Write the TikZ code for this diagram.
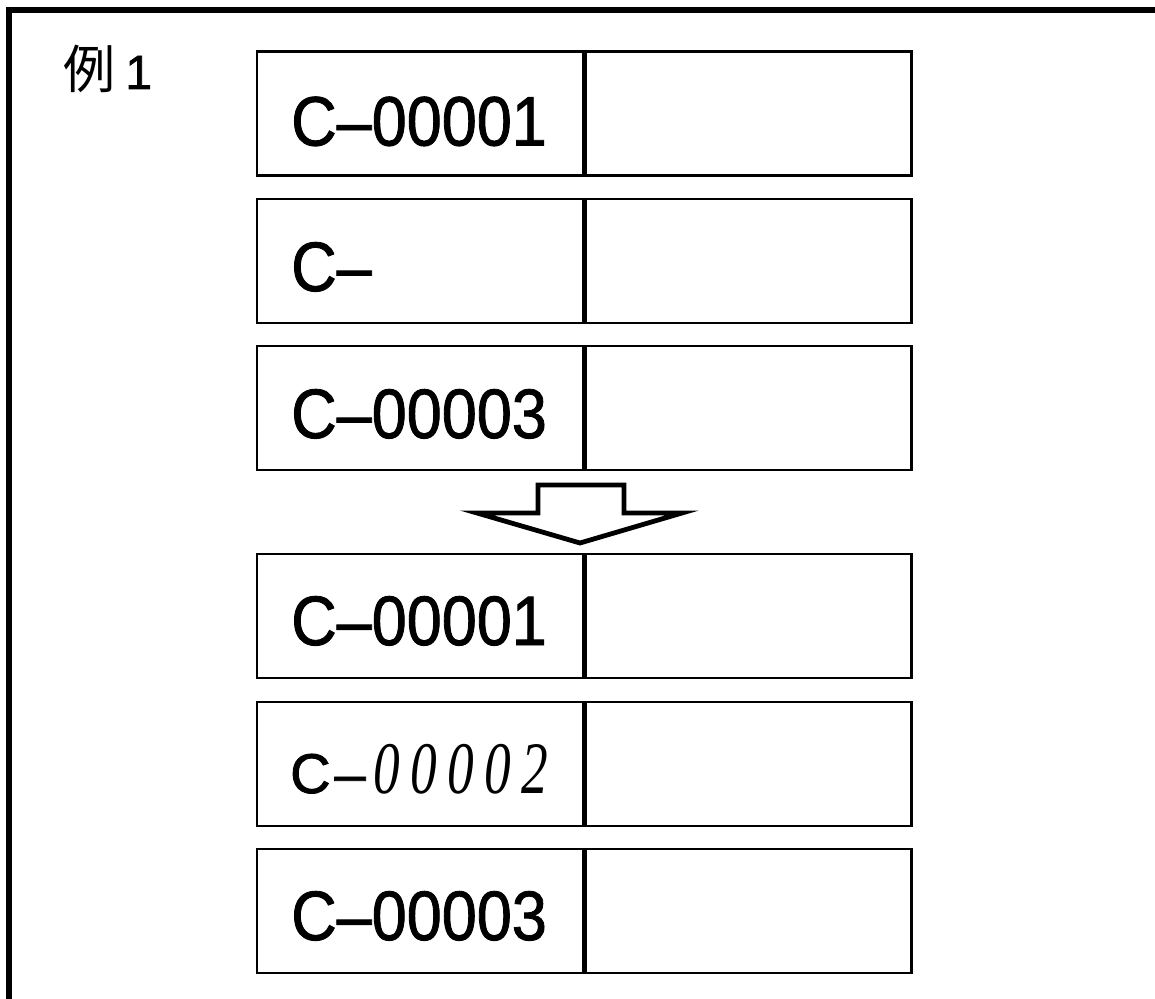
\documentclass[tikz,border=0pt]{standalone}
\usepackage{fontspec}
\usetikzlibrary{positioning}
\newfontfamily\cjk{Noto Sans CJK JP}
\newfontfamily\boxfont{Liberation Sans}[FakeStretch=0.9,FakeBold=1.2]
\newfontfamily\plainfont{Liberation Sans}[FakeBold=1.5]
\newfontfamily\handfont{Liberation Serif}[FakeStretch=0.72,LetterSpace=14]
\tikzset{
  cell/.style={draw, line width=1.2pt, minimum width=163pt, minimum height=62pt, inner sep=0pt},
  code/.style={anchor=base west, inner sep=0pt, font=\boxfont\fontsize{35pt}{40pt}\selectfont},
}
\begin{document}
\begin{tikzpicture}[x=0.5pt, y=-0.5pt] %1 unit = 1 px
  \useasboundingbox (0,0) rectangle (1155,999);
  \clip (0,0) rectangle (1155,999);

  % frame, runs off the page at right and bottom
  \draw[line width=3pt] (9,1020) -- (9,10) -- (1180,10);

  \node[anchor=base west, inner sep=0pt] (ex) at (63,89)
    {{\cjk\fontsize{26pt}{30pt}\selectfont 例}\hspace{5pt}{\plainfont\fontsize{24pt}{28pt}\selectfont 1}};

  % before
  \node[cell] (l1) at (420,113.5) {};
  \node[cell, right=0pt of l1] (r1) {};
  \node[cell] (l2) at (420,261) {};
  \node[cell, right=0pt of l2] (r2) {};
  \node[cell] (l3) at (420,408) {};
  \node[cell, right=0pt of l3] (r3) {};

  \node[code] (t1) at ([xshift=17.5pt,yshift=-16pt]l1.west) {C–00001};
  \node[code] (t2) at ([xshift=17.5pt,yshift=-15pt]l2.west) {C–};
  \node[code] (t3) at ([xshift=17.5pt,yshift=-15pt]l3.west) {C–00003};

  % arrow
  \draw[line width=2.4pt, line join=miter] (538,485) -- (624,485) -- (624,513) -- (682,513)
    -- (580,543) -- (477,513) -- (538,513) -- cycle;

  % after
  \node[cell] (l4) at (420,616) {};
  \node[cell, right=0pt of l4] (r4) {};
  \node[cell] (l5) at (420,764) {};
  \node[cell, right=0pt of l5] (r5) {};
  \node[cell] (l6) at (420,911) {};
  \node[cell, right=0pt of l6] (r6) {};

  \node[code] (t4) at ([xshift=17.5pt,yshift=-14.5pt]l4.west) {C–00001};
  \node[anchor=base west, inner sep=0pt] (t5) at ([xshift=17pt,yshift=-14.5pt]l5.west)
    {{\plainfont\fontsize{28pt}{32pt}\selectfont C\hspace{2pt}–}\hspace{4pt}{\handfont\itshape\fontsize{37pt}{42pt}\selectfont 00002}};
  \node[code] (t6) at ([xshift=17.5pt,yshift=-14.5pt]l6.west) {C–00003};
\end{tikzpicture}
\end{document}
